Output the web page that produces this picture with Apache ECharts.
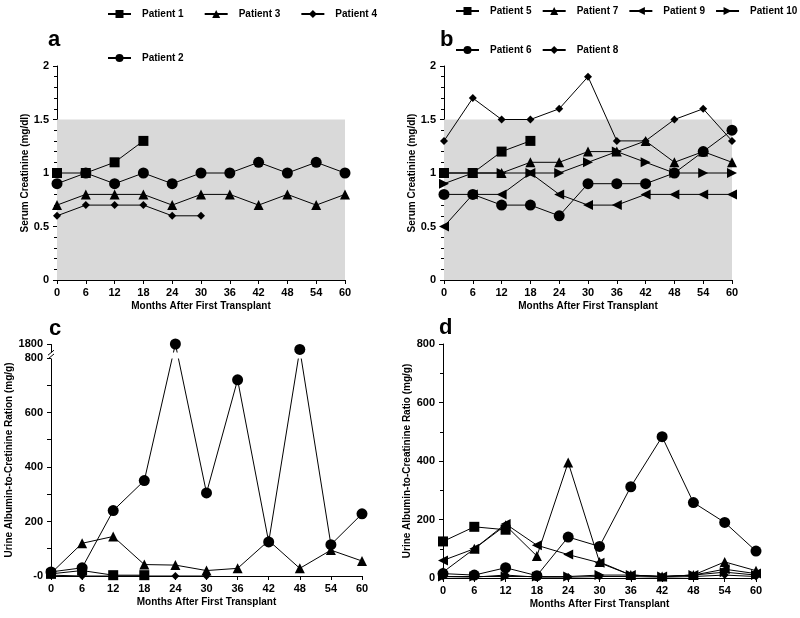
<!DOCTYPE html>
<html>
<head>
<meta charset="utf-8">
<script src="https://cdn.jsdelivr.net/npm/echarts@6/dist/echarts.min.js"></script>
<style>
html,body{margin:0;padding:0;background:#fff;}
#chart{width:800px;height:618px;}
</style>
</head>
<body>
<div id="chart"></div>
<script>
// ---------- data ----------
const months = [0, 6, 12, 18, 24, 30, 36, 42, 48, 54, 60];
const normalCreatinine = [0, 1.5];

// Panel a: serum creatinine (mg/dl), patients 1-4
const creatP1 = [1.0, 1.0, 1.1, 1.3, null, null, null, null, null, null, null];
const creatP2 = [0.9, 1.0, 0.9, 1.0, 0.9, 1.0, 1.0, 1.1, 1.0, 1.1, 1.0];
const creatP3 = [0.7, 0.8, 0.8, 0.8, 0.7, 0.8, 0.8, 0.7, 0.8, 0.7, 0.8];
const creatP4 = [0.6, 0.7, 0.7, 0.7, 0.6, 0.6, null, null, null, null, null];

// Panel b: serum creatinine (mg/dl), patients 5-10
const creatP5 = [1.0, 1.0, 1.2, 1.3, null, null, null, null, null, null, null];
const creatP6 = [0.8, 0.8, 0.7, 0.7, 0.6, 0.9, 0.9, 0.9, 1.0, 1.2, 1.4];
const creatP7 = [1.0, 1.0, 1.0, 1.1, 1.1, 1.2, 1.2, 1.3, 1.1, 1.2, 1.1];
const creatP8 = [1.3, 1.7, 1.5, 1.5, 1.6, 1.9, 1.3, 1.3, 1.5, 1.6, 1.3];
const creatP9 = [0.5, 0.8, 0.8, 1.0, 0.8, 0.7, 0.7, 0.8, 0.8, 0.8, 0.8];
const creatP10 = [0.9, 1.0, 1.0, 1.0, 1.0, 1.1, 1.2, 1.1, 1.0, 1.0, 1.0];

// Panel c: urine albumin-to-creatinine ratio (mg/g), patients 1-4
const uacrP1 = [8, 20, 3, 3, null, null, null, null, null, null, null];
const uacrP2 = [15, 30, 240, 350, 1800, 305, 720, 125, 1780, 115, 228];
const uacrP3 = [10, 120, 145, 42, 40, 20, 28, 130, 28, 95, 55];
const uacrP4 = [3, 0, 0, 0, 0, 0, null, null, null, null, null];

// Panel d: urine albumin-to-creatinine ratio (mg/g), patients 5-10
const uacrP5 = [125, 175, 165, null, null, null, null, null, null, null, null];
const uacrP6 = [15, 10, 35, 8, 140, 108, 312, 483, 258, 190, 92];
const uacrP7 = [20, 100, 180, 75, 395, 55, 10, 5, 10, 55, 25];
const uacrP8 = [5, 3, 10, 3, 3, 5, 5, 3, 5, 10, 5];
const uacrP9 = [60, 100, 185, 112, 80, 52, 10, 5, 10, 30, 15];
const uacrP10 = [5, 5, 5, 5, 5, 10, 10, 5, 10, 20, 10];

const creatTicks = [0, 0.5, 1, 1.5, 2];
const uacrTicksC = [0, 200, 400, 600, 800, 1800];
const uacrMinorC = [100, 300, 500, 700];
const uacrBreak = [800, 1770];

// ---------- helpers ----------
const FONT = 'Liberation Sans, Arial, Helvetica, sans-serif';
const BLACK = '#000';

function pts(arr) {
  const out = [];
  arr.forEach((v, i) => { if (v !== null && v !== undefined) out.push([months[i], v]); });
  return out;
}

const SYM = {
  square: { symbol: 'rect', size: 10, rotate: 0 },
  circle: { symbol: 'circle', size: 11, rotate: 0 },
  triangle: { symbol: 'triangle', size: 10, rotate: 0 },
  diamond: { symbol: 'diamond', size: 8, rotate: 0 },
  left: { symbol: 'triangle', size: 10, rotate: 90 },
  right: { symbol: 'triangle', size: 10, rotate: -90 }
};

function line(name, arr, shape, idx, extra) {
  const s = SYM[shape];
  return Object.assign({
    name: name,
    type: 'line',
    xAxisIndex: idx,
    yAxisIndex: idx,
    data: pts(arr),
    symbol: s.symbol,
    symbolSize: s.size,
    symbolRotate: s.rotate,
    showAllSymbol: true,
    clip: false,
    animation: false,
    color: BLACK,
    itemStyle: { color: BLACK },
    lineStyle: { color: BLACK, width: 1 },
    emphasis: { disabled: true }
  }, extra || {});
}

function markers(name, arr, shape, idx) {
  const s = SYM[shape];
  return {
    name: name, type: 'scatter', xAxisIndex: idx, yAxisIndex: idx,
    data: pts(arr), symbol: s.symbol, symbolSize: s.size, symbolRotate: s.rotate,
    clip: false, animation: false, zlevel: 1, z: 10, silent: true,
    itemStyle: { color: BLACK, opacity: 1 }, emphasis: { disabled: true }
  };
}

const axisLabelStyle = { color: BLACK, fontFamily: FONT, fontWeight: 'bold', fontSize: 11 };
const nameStyle = { color: BLACK, fontFamily: FONT, fontWeight: 'bold', fontSize: 10 };

function xAxis(idx) {
  return {
    type: 'value', gridIndex: idx, min: 0, max: 60, interval: 6,
    name: 'Months After First Transplant', nameLocation: 'middle', nameGap: 21,
    nameTextStyle: nameStyle,
    axisLine: { show: true, onZero: false, lineStyle: { color: BLACK, width: 1 } },
    axisTick: { show: true, length: 4, lineStyle: { color: BLACK } },
    axisLabel: Object.assign({ margin: 7 }, axisLabelStyle),
    splitLine: { show: false }
  };
}

function yAxisBase(idx, name, nameGap) {
  return {
    type: 'value', gridIndex: idx,
    name: name, nameLocation: 'middle', nameGap: nameGap, nameRotate: 90,
    nameTextStyle: nameStyle,
    axisLine: { show: true, onZero: false, lineStyle: { color: BLACK, width: 1 } },
    axisTick: { show: true, length: 4, lineStyle: { color: BLACK } },
    minorTick: { show: true, length: 3, lineStyle: { color: BLACK } },
    axisLabel: Object.assign({ margin: 8 }, axisLabelStyle),
    splitLine: { show: false },
    minorSplitLine: { show: false }
  };
}

const grids = [
  { left: 57, top: 66, width: 288, height: 214 },
  { left: 444, top: 66, width: 288, height: 214 },
  { left: 51, top: 344, width: 311, height: 232 },
  { left: 443, top: 344, width: 313, height: 234 }
];

const yA = Object.assign(yAxisBase(0, 'Serum Creatinine (mg/dl)', 21), {
  min: creatTicks[0], max: creatTicks[creatTicks.length - 1], interval: 0.5
});
yA.minorTick.splitNumber = 5;
const yB = Object.assign(yAxisBase(1, 'Serum Creatinine (mg/dl)', 21), {
  min: creatTicks[0], max: creatTicks[creatTicks.length - 1], interval: 0.5
});
yB.minorTick.splitNumber = 5;

const yC = Object.assign(yAxisBase(2, 'Urine Albumin-to-Cretinine Ration (mg/g)', 32), {
  min: 0, max: 1800, interval: 200, z: 3,
  breaks: [{ start: uacrBreak[0], end: uacrBreak[1], gap: '2.5%', isExpanded: false }],
  breakArea: {
    show: true,
    expandOnClick: false,
    zigzagAmplitude: 0,
    itemStyle: { color: '#fff', borderColor: 'rgba(0,0,0,0)', borderWidth: 0, opacity: 1 }
  },
  breakLabelLayout: { moveOverlap: false }
});
yC.minorTick = { show: false };
yC.axisTick = { show: true, length: 4, lineStyle: { color: BLACK }, customValues: uacrTicksC.concat(uacrMinorC) };
yC.axisLabel.customValues = uacrTicksC;
yC.axisLabel.showMaxLabel = true;
yC.axisLabel.hideOverlap = false;
yC.axisLabel.formatter = function (v) {
  if (v === 0) return '-0';
  return String(v);
};
const yD = Object.assign(yAxisBase(3, 'Urine Albumin-to-Creatinine Ratio (mg/g)', 29), {
  min: 0, max: 800, interval: 200
});
yD.minorTick.splitNumber = 2;

const legendText = { color: BLACK, fontFamily: FONT, fontWeight: 'bold', fontSize: 10, padding: [0, 0, 0, 6] };
function legend(names, left, top, gap) {
  return {
    data: names, left: left, top: top, orient: 'horizontal',
    itemWidth: 23, itemHeight: 10, itemGap: gap,
    textStyle: legendText, selectedMode: false, padding: 0
  };
}

const titleStyle = { fontSize: 22, fontWeight: 'bold', color: BLACK, fontFamily: FONT };
const option = {
  backgroundColor: '#fff',
  animation: false,
  textStyle: { fontFamily: FONT },
  title: [
    { text: 'a', left: 43, top: 24, textStyle: titleStyle },
    { text: 'b', left: 435, top: 24, textStyle: titleStyle },
    { text: 'c', left: 44, top: 313, textStyle: titleStyle },
    { text: 'd', left: 434, top: 312, textStyle: titleStyle }
  ],
  legend: [
    legend(['Patient 1', 'Patient 3', 'Patient 4'], 107, 9, 20),
    legend(['Patient 2'], 107, 53, 20),
    legend(['Patient 5', 'Patient 7', 'Patient 9', 'Patient 10'], 455, 6, 10),
    legend(['Patient 6', 'Patient 8'], 455, 45, 10)
  ],
  grid: grids,
  xAxis: [xAxis(0), xAxis(1), xAxis(2), xAxis(3)],
  yAxis: [yA, yB, yC, yD],
  series: [
    line('Patient 1', creatP1, 'square', 0, {
      markArea: {
        silent: true,
        itemStyle: { color: '#d9d9d9' },
        data: [[{ coord: [months[0], normalCreatinine[0]] }, { coord: [months[months.length - 1], normalCreatinine[1]] }]]
      }
    }),
    line('Patient 2', creatP2, 'circle', 0),
    line('Patient 3', creatP3, 'triangle', 0),
    line('Patient 4', creatP4, 'diamond', 0),

    line('Patient 5', creatP5, 'square', 1, {
      markArea: {
        silent: true,
        itemStyle: { color: '#d9d9d9' },
        data: [[{ coord: [months[0], normalCreatinine[0]] }, { coord: [months[months.length - 1], normalCreatinine[1]] }]]
      }
    }),
    line('Patient 6', creatP6, 'circle', 1),
    line('Patient 7', creatP7, 'triangle', 1),
    line('Patient 8', creatP8, 'diamond', 1),
    line('Patient 9', creatP9, 'left', 1),
    line('Patient 10', creatP10, 'right', 1),

    line('Patient 1', uacrP1, 'square', 2),
    line('Patient 2', uacrP2, 'circle', 2, { showSymbol: false }),
    line('Patient 3', uacrP3, 'triangle', 2),
    line('Patient 4', uacrP4, 'diamond', 2),
    markers('Patient 2', uacrP2, 'circle', 2),

    line('Patient 5', uacrP5, 'square', 3),
    line('Patient 6', uacrP6, 'circle', 3),
    line('Patient 7', uacrP7, 'triangle', 3),
    line('Patient 8', uacrP8, 'diamond', 3),
    line('Patient 9', uacrP9, 'left', 3),
    line('Patient 10', uacrP10, 'right', 3)
  ]
};

const chart = echarts.init(document.getElementById('chart'), null, { renderer: 'canvas' });
chart.setOption(option);

// Axis-break marks ("//") on panel c's y axis, placed through the axis scale
(function () {
  const lo = chart.convertToPixel({ xAxisIndex: 2, yAxisIndex: 2 }, [0, uacrBreak[0]]);
  const hi = chart.convertToPixel({ xAxisIndex: 2, yAxisIndex: 2 }, [0, uacrBreak[1]]);
  if (!lo || !hi) return;
  const x = lo[0];
  const yLo = lo[1] - 1, yHi = hi[1] + 1;
  chart.setOption({
    graphic: [
      { type: 'rect', shape: { x: x - 2, y: Math.min(yLo, yHi), width: 4, height: Math.abs(yLo - yHi) }, style: { fill: '#fff' }, z: 100 },
      { type: 'line', shape: { x1: x - 3, y1: yLo + 2, x2: x + 3, y2: yLo - 3 }, style: { stroke: BLACK, lineWidth: 1 }, z: 101 },
      { type: 'line', shape: { x1: x - 3, y1: yHi + 2, x2: x + 3, y2: yHi - 3 }, style: { stroke: BLACK, lineWidth: 1 }, z: 101 }
    ]
  });
})();
</script>
</body>
</html>
